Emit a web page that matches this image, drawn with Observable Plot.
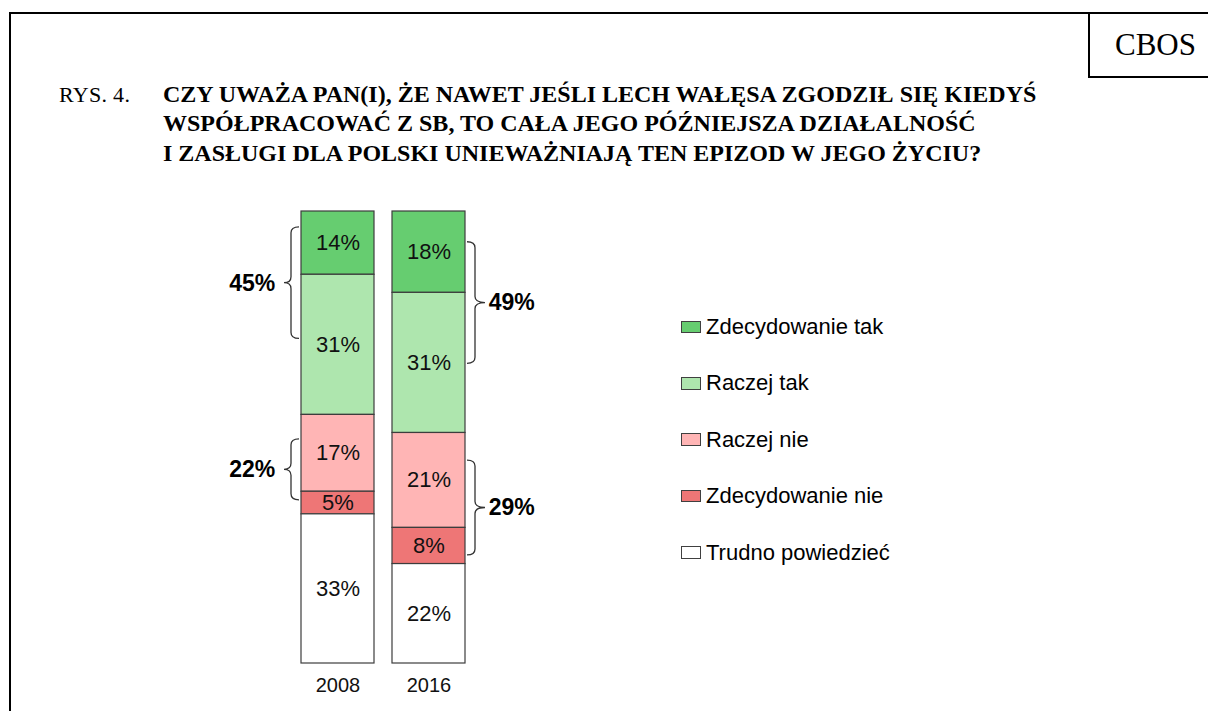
<!DOCTYPE html>
<html>
<head>
<meta charset="utf-8">
<script src="https://cdn.jsdelivr.net/npm/d3@7"></script>
<script src="https://cdn.jsdelivr.net/npm/@observablehq/plot@0.6"></script>
<style>
  html, body { margin:0; padding:0; background:#fff; }
  #root { position:relative; width:1208px; height:711px; overflow:hidden; background:#fff; }
  .abs { position:absolute; }
  .frame { left:9px; top:12px; width:1400px; height:900px; border:2px solid #000; box-sizing:border-box; }
  .cbos { left:1088px; top:12px; width:200px; height:66px; border:2px solid #000; box-sizing:border-box; background:#fff; }
  .cbostext { left:1115px; top:29px; font-family:"Liberation Serif","Times New Roman",serif; font-size:31px; line-height:31px; color:#000; white-space:nowrap; }
  .rys { left:59px; top:80px; font-family:"Liberation Serif","Times New Roman",serif; font-size:22px; line-height:29.5px; letter-spacing:0.3px; color:#000; white-space:nowrap; }
  .q { left:163px; font-family:"Liberation Serif","Times New Roman",serif; font-weight:bold; font-size:24px; line-height:29.5px; letter-spacing:0px; color:#000; white-space:nowrap; }
  .legend { left:681px; top:298.8px; font-family:"Liberation Sans",Arial,sans-serif; font-size:22px; color:#000; }
  .lrow { height:56.4px; display:flex; align-items:center; white-space:nowrap; }
  .sw { width:20px; height:12.6px; border:1px solid #404040; box-sizing:border-box; margin-right:5px; flex:none; }
  #chart { left:0; top:0; }
</style>
</head>
<body>
<div id="root">
  <div class="abs frame"></div>
  <div class="abs cbos"></div>
  <div class="abs cbostext">CBOS</div>
  <div class="abs rys">RYS. 4.</div>
  <div class="abs q" style="top:79.5px">CZY UWAŻA PAN(I), ŻE NAWET JEŚLI LECH WAŁĘSA ZGODZIŁ SIĘ KIEDYŚ</div>
  <div class="abs q" style="top:109px">WSPÓŁPRACOWAĆ Z SB, TO CAŁA JEGO PÓŹNIEJSZA DZIAŁALNOŚĆ</div>
  <div class="abs q" style="top:138.5px">I ZASŁUGI DLA POLSKI UNIEWAŻNIAJĄ TEN EPIZOD W JEGO ŻYCIU?</div>
  <div class="abs" id="chart"></div>
  <div class="abs legend" id="legend"></div>
</div>
<script>
// ---- data ----
const years = ["2008", "2016"];
const categories = ["Zdecydowanie tak", "Raczej tak", "Raczej nie", "Zdecydowanie nie", "Trudno powiedzieć"];
const values2008 = [14, 31, 17, 5, 33];
const values2016 = [18, 31, 21, 8, 22];
const colors = ["#66cd70", "#aee6ae", "#ffb5b5", "#ee7676", "#ffffff"];
// braces: year, categories grouped, extent (percent from top of bar)
const braceYears = ["2008", "2008", "2016", "2016"];
const braceGroups = [[0, 1], [2, 3], [0, 1], [2, 3]];
const braceFrom = [3.5, 50.4, 6.8, 55.1];
const braceTo = [28.2, 63.9, 33.7, 76.1];

// ---- build table ----
const valuesByYear = {"2008": values2008, "2016": values2016};
const rows = [];
for (const y of years) {
  let acc = 0;
  valuesByYear[y].forEach((v, i) => {
    rows.push({year: y, category: categories[i], value: v, y1: acc, y2: acc + v, mid: acc + v / 2});
    acc += v;
  });
}
const braces = braceYears.map((y, i) => ({
  year: y,
  side: y === years[0] ? "left" : "right",
  from: braceFrom[i],
  to: braceTo[i],
  mid: (braceFrom[i] + braceTo[i]) / 2,
  total: braceGroups[i].reduce((s, k) => s + valuesByYear[y][k], 0)
}));

const font = "Liberation Sans, Arial, sans-serif";
const plot = Plot.plot({
  width: 1208,
  height: 711,
  margin: 0,
  style: {background: "transparent", fontFamily: font, color: "#000", overflow: "visible"},
  x: {type: "band", domain: years, range: [300, 465.5], paddingInner: 0.2, paddingOuter: 0, axis: null},
  y: {domain: [0, 100], range: [211, 663], axis: null},
  color: {domain: categories, range: colors},
  marks: [
    Plot.barY(rows, {x: "year", y1: "y1", y2: "y2", fill: "category", stroke: "#3d3d3d", strokeWidth: 1.2}),
    Plot.text(rows, {x: "year", y: "mid", text: d => d.value + "%", fontSize: 22, fill: "#111"}),
    Plot.text(years, {x: d => d, y: () => 100, dy: 22, text: d => d, fontSize: 20, fill: "#111"}),
    Plot.text(braces.filter(b => b.side === "left"), {x: "year", y: "mid", text: d => d.total + "%", dx: -62.75, textAnchor: "end", fontWeight: "bold", fontSize: 23, fill: "#000"}),
    Plot.text(braces.filter(b => b.side === "right"), {x: "year", y: "mid", text: d => d.total + "%", dx: 59.75, textAnchor: "start", fontWeight: "bold", fontSize: 23, fill: "#000"})
  ]
});
document.getElementById("chart").appendChild(plot);

// ---- curly braces, positioned through Plot's scales ----
const sx = plot.scale("x"), sy = plot.scale("y");
const bw = sx.bandwidth;
const svg = d3.select(plot);
for (const b of braces) {
  const left = b.side === "left";
  const dir = left ? -1 : 1;
  const xEnd = left ? sx.apply(b.year) - 2 : sx.apply(b.year) + bw + 2;
  const xSpine = xEnd + dir * 8;
  const xTip = xEnd + dir * (left ? 15 : 18);
  const y0 = sy.apply(b.from), y1 = sy.apply(b.to), ym = (y0 + y1) / 2, r = 6;
  const d = `M${xEnd},${y0} Q${xSpine},${y0} ${xSpine},${y0 + r} L${xSpine},${ym - r} Q${xSpine},${ym} ${xTip},${ym} Q${xSpine},${ym} ${xSpine},${ym + r} L${xSpine},${y1 - r} Q${xSpine},${y1} ${xEnd},${y1}`;
  svg.append("path").attr("d", d).attr("fill", "none").attr("stroke", "#333").attr("stroke-width", 1.3);
}

// ---- legend ----
const legend = document.getElementById("legend");
categories.forEach((c, i) => {
  const row = document.createElement("div");
  row.className = "lrow";
  const sw = document.createElement("div");
  sw.className = "sw";
  sw.style.background = colors[i];
  const t = document.createElement("span");
  t.textContent = c;
  row.appendChild(sw);
  row.appendChild(t);
  legend.appendChild(row);
});
</script>
</body>
</html>
